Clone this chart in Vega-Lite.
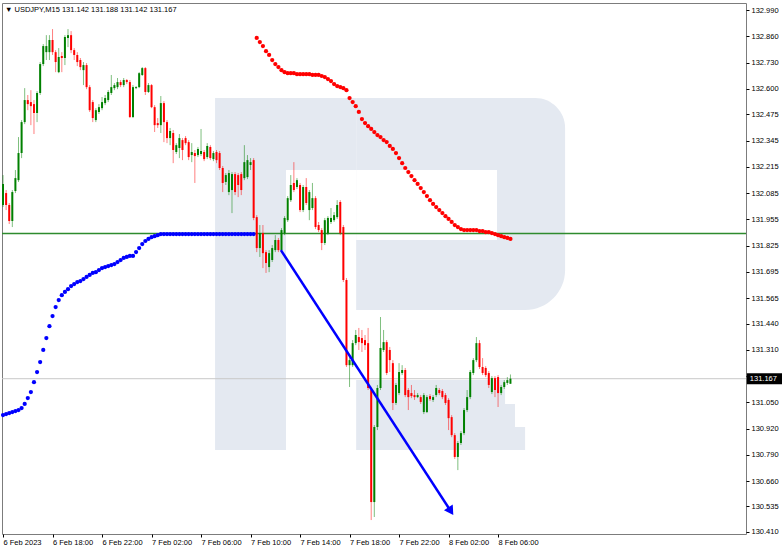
{
"$schema": "https://vega.github.io/schema/vega-lite/v6.json",
"width": 744, "height": 531,
"autosize": "none",
"padding": {"left": 2, "top": 3, "right": 36, "bottom": 16},
"background": "white",
"config": {"view": {"stroke": "#7c7c7c", "strokeWidth": 1}, "font": "Liberation Sans", "axis": {"labelOverlap": false}},
"title": {"text": "▼ USDJPY,M15  131.142 131.188 131.142 131.167", "anchor": "start", "frame": "group", "offset": -12, "baseline": "bottom", "fontSize": 7.5, "font": "Liberation Sans", "fontWeight": "normal", "color": "#000000", "dx": 3, "dy": 6},
"datasets": {
"logo": [
{"t":"2023-02-07T07:08","t2":"2023-02-07T12:52","p":132.555,"p2":130.814},
{"t":"2023-02-07T12:52","t2":"2023-02-07T18:32","p":132.555,"p2":132.199},
{"t":"2023-02-07T18:32","t2":"2023-02-08T06:34","p":131.160,"p2":131.042},
{"t":"2023-02-07T18:32","t2":"2023-02-08T07:22","p":131.042,"p2":130.928},
{"t":"2023-02-07T18:32","t2":"2023-02-08T08:11","p":130.928,"p2":130.814}
],
"bowl": [
{"t":"2023-02-07T18:32","t2":"2023-02-08T11:25","p":132.555,"p2":131.507}
],
"hole": [
{"t":"2023-02-07T18:32","t2":"2023-02-08T05:55","p":132.199,"p2":131.853}
],
"arrow": [
{"t":"2023-02-07T12:27","p":131.803},
{"t":"2023-02-08T02:07","p":130.518}
],
"arrowhead": [{"t":"2023-02-08T02:07","p":130.518}],
"box": [{"t":"2023-02-09T02:06","t2":"2023-02-09T05:00","p":131.167,"label":"131.167"}],
"candles": [
{"t":"2023-02-06T14:00","o":132.026,"h":132.174,"l":132.016,"c":132.130,"b":130.987},
{"t":"2023-02-06T14:15","o":132.085,"h":132.100,"l":132.001,"c":132.026,"b":130.992},
{"t":"2023-02-06T14:30","o":132.026,"h":132.036,"l":131.932,"c":131.947,"b":130.997},
{"t":"2023-02-06T14:45","o":131.947,"h":132.100,"l":131.917,"c":132.090,"b":131.002},
{"t":"2023-02-06T15:00","o":132.095,"h":132.199,"l":132.085,"c":132.159,"b":131.007},
{"t":"2023-02-06T15:15","o":132.149,"h":132.362,"l":132.140,"c":132.283,"b":131.012},
{"t":"2023-02-06T15:30","o":132.283,"h":132.446,"l":132.258,"c":132.436,"b":131.022},
{"t":"2023-02-06T15:45","o":132.436,"h":132.604,"l":132.426,"c":132.545,"b":131.042},
{"t":"2023-02-06T16:00","o":132.545,"h":132.570,"l":132.495,"c":132.525,"b":131.071},
{"t":"2023-02-06T16:15","o":132.535,"h":132.594,"l":132.421,"c":132.515,"b":131.101},
{"t":"2023-02-06T16:30","o":132.525,"h":132.545,"l":132.377,"c":132.481,"b":131.150},
{"t":"2023-02-06T16:45","o":132.481,"h":132.589,"l":132.436,"c":132.580,"b":131.200},
{"t":"2023-02-06T17:00","o":132.580,"h":132.733,"l":132.570,"c":132.723,"b":131.249},
{"t":"2023-02-06T17:15","o":132.723,"h":132.822,"l":132.713,"c":132.812,"b":131.309},
{"t":"2023-02-06T17:30","o":132.782,"h":132.866,"l":132.743,"c":132.812,"b":131.368},
{"t":"2023-02-06T17:45","o":132.782,"h":132.866,"l":132.743,"c":132.842,"b":131.427},
{"t":"2023-02-06T18:00","o":132.842,"h":132.896,"l":132.768,"c":132.782,"b":131.477},
{"t":"2023-02-06T18:15","o":132.782,"h":132.792,"l":132.683,"c":132.733,"b":131.521},
{"t":"2023-02-06T18:30","o":132.683,"h":132.802,"l":132.678,"c":132.758,"b":131.556},
{"t":"2023-02-06T18:45","o":132.763,"h":132.782,"l":132.683,"c":132.753,"b":131.580},
{"t":"2023-02-06T19:00","o":132.753,"h":132.866,"l":132.718,"c":132.857,"b":131.596},
{"t":"2023-02-06T19:15","o":132.852,"h":132.896,"l":132.807,"c":132.866,"b":131.610},
{"t":"2023-02-06T19:30","o":132.866,"h":132.886,"l":132.777,"c":132.792,"b":131.625},
{"t":"2023-02-06T19:45","o":132.792,"h":132.802,"l":132.743,"c":132.768,"b":131.635},
{"t":"2023-02-06T20:00","o":132.768,"h":132.782,"l":132.713,"c":132.733,"b":131.645},
{"t":"2023-02-06T20:15","o":132.743,"h":132.753,"l":132.693,"c":132.708,"b":131.650},
{"t":"2023-02-06T20:30","o":132.693,"h":132.733,"l":132.619,"c":132.718,"b":131.660},
{"t":"2023-02-06T20:45","o":132.718,"h":132.728,"l":132.599,"c":132.609,"b":131.670},
{"t":"2023-02-06T21:00","o":132.609,"h":132.619,"l":132.486,"c":132.495,"b":131.680},
{"t":"2023-02-06T21:15","o":132.535,"h":132.545,"l":132.436,"c":132.456,"b":131.690},
{"t":"2023-02-06T21:30","o":132.446,"h":132.505,"l":132.436,"c":132.495,"b":131.694},
{"t":"2023-02-06T21:45","o":132.486,"h":132.525,"l":132.476,"c":132.510,"b":131.704},
{"t":"2023-02-06T22:00","o":132.505,"h":132.560,"l":132.495,"c":132.535,"b":131.714},
{"t":"2023-02-06T22:15","o":132.530,"h":132.570,"l":132.520,"c":132.555,"b":131.719},
{"t":"2023-02-06T22:30","o":132.545,"h":132.594,"l":132.535,"c":132.585,"b":131.724},
{"t":"2023-02-06T22:45","o":132.580,"h":132.669,"l":132.570,"c":132.609,"b":131.729},
{"t":"2023-02-06T23:00","o":132.604,"h":132.629,"l":132.594,"c":132.619,"b":131.734},
{"t":"2023-02-06T23:15","o":132.609,"h":132.654,"l":132.599,"c":132.634,"b":131.744},
{"t":"2023-02-06T23:30","o":132.634,"h":132.644,"l":132.609,"c":132.619,"b":131.754},
{"t":"2023-02-06T23:45","o":132.619,"h":132.654,"l":132.609,"c":132.644,"b":131.764},
{"t":"2023-02-07T00:00","o":132.644,"h":132.649,"l":132.624,"c":132.634,"b":131.769},
{"t":"2023-02-07T00:15","o":132.634,"h":132.644,"l":132.456,"c":132.461,"b":131.774},
{"t":"2023-02-07T00:30","o":132.461,"h":132.619,"l":132.456,"c":132.609,"b":131.774},
{"t":"2023-02-07T00:45","o":132.604,"h":132.614,"l":132.599,"c":132.609,"b":131.793},
{"t":"2023-02-07T01:00","o":132.609,"h":132.683,"l":132.604,"c":132.678,"b":131.813},
{"t":"2023-02-07T01:15","o":132.669,"h":132.708,"l":132.664,"c":132.703,"b":131.833},
{"t":"2023-02-07T01:30","o":132.703,"h":132.708,"l":132.570,"c":132.585,"b":131.848},
{"t":"2023-02-07T01:45","o":132.585,"h":132.629,"l":132.580,"c":132.619,"b":131.858},
{"t":"2023-02-07T02:00","o":132.619,"h":132.624,"l":132.505,"c":132.510,"b":131.867},
{"t":"2023-02-07T02:15","o":132.510,"h":132.520,"l":132.387,"c":132.421,"b":131.872},
{"t":"2023-02-07T02:30","o":132.431,"h":132.456,"l":132.407,"c":132.421,"b":131.877},
{"t":"2023-02-07T02:45","o":132.421,"h":132.565,"l":132.382,"c":132.530,"b":131.882},
{"t":"2023-02-07T03:00","o":132.530,"h":132.540,"l":132.337,"c":132.436,"b":131.882},
{"t":"2023-02-07T03:15","o":132.436,"h":132.446,"l":132.332,"c":132.357,"b":131.882},
{"t":"2023-02-07T03:30","o":132.357,"h":132.407,"l":132.322,"c":132.392,"b":131.882},
{"t":"2023-02-07T03:45","o":132.382,"h":132.397,"l":132.233,"c":132.298,"b":131.882},
{"t":"2023-02-07T04:00","o":132.288,"h":132.332,"l":132.278,"c":132.322,"b":131.882},
{"t":"2023-02-07T04:15","o":132.308,"h":132.377,"l":132.258,"c":132.357,"b":131.882},
{"t":"2023-02-07T04:30","o":132.347,"h":132.357,"l":132.248,"c":132.298,"b":131.882},
{"t":"2023-02-07T04:45","o":132.357,"h":132.367,"l":132.322,"c":132.332,"b":131.882},
{"t":"2023-02-07T05:00","o":132.337,"h":132.347,"l":132.248,"c":132.263,"b":131.882},
{"t":"2023-02-07T05:15","o":132.273,"h":132.332,"l":132.238,"c":132.288,"b":131.882},
{"t":"2023-02-07T05:30","o":132.283,"h":132.298,"l":132.135,"c":132.268,"b":131.882},
{"t":"2023-02-07T05:45","o":132.273,"h":132.313,"l":132.263,"c":132.303,"b":131.882},
{"t":"2023-02-07T06:00","o":132.278,"h":132.402,"l":132.268,"c":132.293,"b":131.882},
{"t":"2023-02-07T06:15","o":132.288,"h":132.298,"l":132.243,"c":132.253,"b":131.882},
{"t":"2023-02-07T06:30","o":132.263,"h":132.332,"l":132.253,"c":132.318,"b":131.882},
{"t":"2023-02-07T06:45","o":132.313,"h":132.322,"l":132.248,"c":132.258,"b":131.882},
{"t":"2023-02-07T07:00","o":132.253,"h":132.293,"l":132.243,"c":132.283,"b":131.882},
{"t":"2023-02-07T07:15","o":132.288,"h":132.298,"l":132.233,"c":132.248,"b":131.882},
{"t":"2023-02-07T07:30","o":132.283,"h":132.293,"l":132.199,"c":132.209,"b":131.882},
{"t":"2023-02-07T07:45","o":132.209,"h":132.219,"l":132.090,"c":132.135,"b":131.882},
{"t":"2023-02-07T08:00","o":132.140,"h":132.184,"l":132.125,"c":132.174,"b":131.882},
{"t":"2023-02-07T08:15","o":132.090,"h":132.199,"l":132.075,"c":132.184,"b":131.882},
{"t":"2023-02-07T08:30","o":132.100,"h":132.189,"l":131.986,"c":132.179,"b":131.882},
{"t":"2023-02-07T08:45","o":132.179,"h":132.189,"l":132.075,"c":132.090,"b":131.882},
{"t":"2023-02-07T09:00","o":132.174,"h":132.184,"l":132.065,"c":132.125,"b":131.882},
{"t":"2023-02-07T09:15","o":132.179,"h":132.189,"l":132.075,"c":132.100,"b":131.882},
{"t":"2023-02-07T09:30","o":132.159,"h":132.322,"l":132.149,"c":132.238,"b":131.882},
{"t":"2023-02-07T09:45","o":132.164,"h":132.273,"l":132.154,"c":132.248,"b":131.882},
{"t":"2023-02-07T10:00","o":132.224,"h":132.258,"l":132.199,"c":132.238,"b":131.882},
{"t":"2023-02-07T10:15","o":132.248,"h":132.258,"l":131.951,"c":131.962,"b":131.882},
{"t":"2023-02-07T10:30","o":131.966,"h":131.976,"l":131.793,"c":131.813,"r":132.852},
{"t":"2023-02-07T10:45","o":131.813,"h":131.927,"l":131.769,"c":131.887,"r":132.832},
{"t":"2023-02-07T11:00","o":131.887,"h":131.927,"l":131.714,"c":131.788,"r":132.812},
{"t":"2023-02-07T11:15","o":131.793,"h":131.803,"l":131.690,"c":131.739,"r":132.787},
{"t":"2023-02-07T11:30","o":131.719,"h":131.803,"l":131.694,"c":131.788,"r":132.768},
{"t":"2023-02-07T11:45","o":131.754,"h":131.828,"l":131.744,"c":131.813,"r":132.743},
{"t":"2023-02-07T12:00","o":131.803,"h":131.877,"l":131.793,"c":131.853,"r":132.723},
{"t":"2023-02-07T12:15","o":131.853,"h":131.863,"l":131.793,"c":131.803,"r":132.708},
{"t":"2023-02-07T12:30","o":131.803,"h":131.912,"l":131.793,"c":131.902,"r":132.693},
{"t":"2023-02-07T12:45","o":131.887,"h":131.971,"l":131.877,"c":131.962,"r":132.683},
{"t":"2023-02-07T13:00","o":131.951,"h":132.070,"l":131.942,"c":132.060,"r":132.678},
{"t":"2023-02-07T13:15","o":132.050,"h":132.174,"l":132.041,"c":132.125,"r":132.678},
{"t":"2023-02-07T13:30","o":132.135,"h":132.238,"l":132.090,"c":132.100,"r":132.678},
{"t":"2023-02-07T13:45","o":132.115,"h":132.159,"l":132.105,"c":132.149,"r":132.673},
{"t":"2023-02-07T14:00","o":132.125,"h":132.135,"l":131.991,"c":132.001,"r":132.673},
{"t":"2023-02-07T14:15","o":132.001,"h":132.125,"l":131.991,"c":132.115,"r":132.673},
{"t":"2023-02-07T14:30","o":132.115,"h":132.159,"l":132.026,"c":132.036,"r":132.673},
{"t":"2023-02-07T14:45","o":132.001,"h":132.100,"l":131.951,"c":132.090,"r":132.673},
{"t":"2023-02-07T15:00","o":132.011,"h":132.135,"l":132.001,"c":132.060,"r":132.669},
{"t":"2023-02-07T15:15","o":132.060,"h":132.070,"l":131.907,"c":131.917,"r":132.669},
{"t":"2023-02-07T15:30","o":131.927,"h":131.942,"l":131.892,"c":131.902,"r":132.669},
{"t":"2023-02-07T15:45","o":131.902,"h":131.912,"l":131.803,"c":131.838,"r":132.664},
{"t":"2023-02-07T16:00","o":131.838,"h":131.962,"l":131.828,"c":131.951,"r":132.659},
{"t":"2023-02-07T16:15","o":131.887,"h":131.971,"l":131.877,"c":131.962,"r":132.649},
{"t":"2023-02-07T16:30","o":131.942,"h":132.011,"l":131.932,"c":131.962,"r":132.639},
{"t":"2023-02-07T16:45","o":131.951,"h":131.991,"l":131.942,"c":131.976,"r":132.624},
{"t":"2023-02-07T17:00","o":131.966,"h":132.050,"l":131.957,"c":132.026,"r":132.614},
{"t":"2023-02-07T17:15","o":132.041,"h":132.050,"l":131.877,"c":131.887,"r":132.609},
{"t":"2023-02-07T17:30","o":131.917,"h":131.927,"l":131.645,"c":131.655,"r":132.604},
{"t":"2023-02-07T17:45","o":131.655,"h":131.665,"l":131.225,"c":131.234,"r":132.594},
{"t":"2023-02-07T18:00","o":131.234,"h":131.284,"l":131.126,"c":131.259,"r":132.555},
{"t":"2023-02-07T18:15","o":131.234,"h":131.358,"l":131.225,"c":131.343,"r":132.535},
{"t":"2023-02-07T18:30","o":131.343,"h":131.408,"l":131.333,"c":131.383,"r":132.515},
{"t":"2023-02-07T18:45","o":131.373,"h":131.418,"l":131.309,"c":131.348,"r":132.486},
{"t":"2023-02-07T19:00","o":131.368,"h":131.408,"l":131.299,"c":131.343,"r":132.451},
{"t":"2023-02-07T19:15","o":131.358,"h":131.383,"l":131.309,"c":131.333,"r":132.431},
{"t":"2023-02-07T19:30","o":131.343,"h":131.418,"l":131.111,"c":131.121,"r":132.416},
{"t":"2023-02-07T19:45","o":131.111,"h":131.121,"l":130.468,"c":130.557,"r":132.402},
{"t":"2023-02-07T20:00","o":130.557,"h":130.938,"l":130.483,"c":130.928,"r":132.387},
{"t":"2023-02-07T20:15","o":130.928,"h":131.136,"l":130.913,"c":131.121,"r":132.372},
{"t":"2023-02-07T20:30","o":131.121,"h":131.472,"l":131.111,"c":131.319,"r":132.362},
{"t":"2023-02-07T20:45","o":131.309,"h":131.408,"l":131.299,"c":131.348,"r":132.347},
{"t":"2023-02-07T21:00","o":131.348,"h":131.358,"l":131.185,"c":131.195,"r":132.337},
{"t":"2023-02-07T21:15","o":131.309,"h":131.324,"l":131.200,"c":131.259,"r":132.318},
{"t":"2023-02-07T21:30","o":131.244,"h":131.259,"l":131.012,"c":131.047,"r":132.303},
{"t":"2023-02-07T21:45","o":131.047,"h":131.146,"l":131.037,"c":131.136,"r":132.283},
{"t":"2023-02-07T22:00","o":131.096,"h":131.244,"l":131.086,"c":131.200,"r":132.258},
{"t":"2023-02-07T22:15","o":131.195,"h":131.234,"l":131.185,"c":131.210,"r":132.233},
{"t":"2023-02-07T22:30","o":131.210,"h":131.220,"l":131.076,"c":131.086,"r":132.209},
{"t":"2023-02-07T22:45","o":131.111,"h":131.121,"l":131.012,"c":131.076,"r":132.189},
{"t":"2023-02-07T23:00","o":131.096,"h":131.136,"l":131.071,"c":131.081,"r":132.169},
{"t":"2023-02-07T23:15","o":131.086,"h":131.111,"l":131.062,"c":131.076,"r":132.149},
{"t":"2023-02-07T23:30","o":131.076,"h":131.096,"l":131.071,"c":131.086,"r":132.130},
{"t":"2023-02-07T23:45","o":131.076,"h":131.086,"l":131.042,"c":131.052,"r":132.110},
{"t":"2023-02-08T00:00","o":131.002,"h":131.096,"l":130.992,"c":131.086,"r":132.090},
{"t":"2023-02-08T00:15","o":131.002,"h":131.086,"l":130.997,"c":131.076,"r":132.070},
{"t":"2023-02-08T00:30","o":131.081,"h":131.091,"l":131.057,"c":131.066,"r":132.050},
{"t":"2023-02-08T00:45","o":131.062,"h":131.086,"l":131.052,"c":131.076,"r":132.031},
{"t":"2023-02-08T01:00","o":131.086,"h":131.136,"l":131.076,"c":131.121,"r":132.016},
{"t":"2023-02-08T01:15","o":131.111,"h":131.121,"l":131.086,"c":131.096,"r":132.001},
{"t":"2023-02-08T01:30","o":131.106,"h":131.116,"l":131.066,"c":131.076,"r":131.986},
{"t":"2023-02-08T01:45","o":131.086,"h":131.096,"l":131.037,"c":131.047,"r":131.971},
{"t":"2023-02-08T02:00","o":131.062,"h":131.071,"l":130.913,"c":130.972,"r":131.957},
{"t":"2023-02-08T02:15","o":130.977,"h":130.987,"l":130.878,"c":130.888,"r":131.942},
{"t":"2023-02-08T02:30","o":130.888,"h":130.898,"l":130.770,"c":130.780,"r":131.927},
{"t":"2023-02-08T02:45","o":130.780,"h":130.859,"l":130.715,"c":130.849,"r":131.917},
{"t":"2023-02-08T03:00","o":130.849,"h":130.908,"l":130.839,"c":130.898,"r":131.907},
{"t":"2023-02-08T03:15","o":130.898,"h":131.022,"l":130.888,"c":131.012,"r":131.902},
{"t":"2023-02-08T03:30","o":131.012,"h":131.111,"l":131.002,"c":131.076,"r":131.902},
{"t":"2023-02-08T03:45","o":131.076,"h":131.210,"l":131.066,"c":131.200,"r":131.902},
{"t":"2023-02-08T04:00","o":131.195,"h":131.269,"l":131.185,"c":131.259,"r":131.902},
{"t":"2023-02-08T04:15","o":131.259,"h":131.373,"l":131.249,"c":131.343,"r":131.902},
{"t":"2023-02-08T04:30","o":131.343,"h":131.358,"l":131.215,"c":131.225,"r":131.897},
{"t":"2023-02-08T04:45","o":131.225,"h":131.269,"l":131.185,"c":131.195,"r":131.897},
{"t":"2023-02-08T05:00","o":131.220,"h":131.229,"l":131.175,"c":131.185,"r":131.892},
{"t":"2023-02-08T05:15","o":131.195,"h":131.205,"l":131.121,"c":131.136,"r":131.892},
{"t":"2023-02-08T05:30","o":131.101,"h":131.180,"l":131.091,"c":131.170,"r":131.887},
{"t":"2023-02-08T05:45","o":131.170,"h":131.180,"l":131.076,"c":131.111,"r":131.882},
{"t":"2023-02-08T06:00","o":131.175,"h":131.185,"l":131.027,"c":131.096,"r":131.877},
{"t":"2023-02-08T06:15","o":131.096,"h":131.136,"l":131.086,"c":131.126,"r":131.872},
{"t":"2023-02-08T06:30","o":131.126,"h":131.160,"l":131.116,"c":131.150,"r":131.867},
{"t":"2023-02-08T06:45","o":131.146,"h":131.175,"l":131.136,"c":131.160,"r":131.863},
{"t":"2023-02-08T07:00","o":131.142,"h":131.188,"l":131.142,"c":131.167,"r":131.858}
]
},
"layer": [
{
"data": {"name": "logo"},
"mark": {"type": "rect", "color": "#e4e9f1"},
"encoding": {
"x": {"field": "t", "type": "temporal", "scale": {"domain": [{"year":2023,"month":2,"date":6,"hours":13,"minutes":55},{"year":2023,"month":2,"date":9,"hours":2,"minutes":2}]},
"axis": {"values": [{"year":2023,"month":2,"date":6,"hours":14},{"year":2023,"month":2,"date":6,"hours":18},{"year":2023,"month":2,"date":6,"hours":22},{"year":2023,"month":2,"date":7,"hours":2},{"year":2023,"month":2,"date":7,"hours":6},{"year":2023,"month":2,"date":7,"hours":10},{"year":2023,"month":2,"date":7,"hours":14},{"year":2023,"month":2,"date":7,"hours":18},{"year":2023,"month":2,"date":7,"hours":22},{"year":2023,"month":2,"date":8,"hours":2},{"year":2023,"month":2,"date":8,"hours":6}],
"tickCount": 40,
"labelExpr": "timeFormat(datum.value, '%d %H') == '06 14' ? '6 Feb 2023' : timeFormat(datum.value, '%-d %b %H:%M')",
"title": null, "grid": false, "domain": false, "tickSize": 3, "tickColor": "#000000", "labelAlign": "left", "labelBaseline": "top", "labelPadding": 1, "labelFontSize": 7.5, "labelFont": "Liberation Sans", "labelColor": "#000000", "labelFlush": false, "labelOverlap": false, "labelBound": false}},
"x2": {"field": "t2"},
"y": {"field": "p", "type": "quantitative", "scale": {"domain": [130.399, 133.025], "nice": false, "zero": false},
"axis": {"orient": "right", "values": [132.99,132.86,132.73,132.6,132.475,132.345,132.215,132.085,131.955,131.825,131.695,131.565,131.44,131.31,131.18,131.05,130.92,130.79,130.66,130.535,130.41], "tickCount": 40, "format": ".3f", "title": null, "grid": false, "domain": false, "tickSize": 3, "tickColor": "#000000", "labelPadding": 2, "labelFontSize": 7.5, "labelFont": "Liberation Sans", "labelColor": "#000000", "labelOverlap": false, "labelBound": false, "labelFlush": false}},
"y2": {"field": "p2"}
}
},
{
"data": {"name": "bowl"},
"mark": {"type": "rect", "color": "#e4e9f1", "cornerRadiusTopRight": 30, "cornerRadiusBottomRight": 40},
"encoding": {
"x": {"field": "t", "type": "temporal"},
"x2": {"field": "t2"},
"y": {"field": "p", "type": "quantitative"},
"y2": {"field": "p2"}
}
},
{
"data": {"name": "hole"},
"mark": {"type": "rect", "color": "#ffffff"},
"encoding": {
"x": {"field": "t", "type": "temporal"},
"x2": {"field": "t2"},
"y": {"field": "p", "type": "quantitative"},
"y2": {"field": "p2"}
}
},
{
"data": {"values": [{}]},
"mark": {"type": "rule", "color": "#c8c8c8", "strokeWidth": 1},
"encoding": {"y": {"datum": 131.167, "type": "quantitative", "scale": {"domain": [130.399, 133.025], "nice": false, "zero": false}}}
},
{
"data": {"values": [{}]},
"mark": {"type": "rule", "color": "#2e8b2e", "strokeWidth": 1.5},
"encoding": {"y": {"datum": 131.885, "type": "quantitative", "scale": {"domain": [130.399, 133.025], "nice": false, "zero": false}}}
},
{
"data": {"name": "candles"},
"mark": {"type": "point", "filled": true, "color": "#0000ff", "opacity": 1, "size": 18},
"encoding": {
"x": {"field": "t", "type": "temporal"},
"y": {"field": "b", "type": "quantitative"}
}
},
{
"data": {"name": "candles"},
"mark": {"type": "point", "filled": true, "color": "#ff0000", "opacity": 1},
"encoding": {
"x": {"field": "t", "type": "temporal"},
"y": {"field": "r", "type": "quantitative"},
"size": {"condition": {"test": "datum.t == '2023-02-07T10:30'", "value": 70}, "value": 18}
}
},
{
"data": {"name": "candles"},
"mark": {"type": "rule", "strokeWidth": 1, "opacity": 0.5},
"encoding": {
"x": {"field": "t", "type": "temporal"},
"y": {"field": "l", "type": "quantitative"},
"y2": {"field": "h"},
"color": {"condition": {"test": "datum.c >= datum.o", "value": "#008000"}, "value": "#ff0000"}
}
},
{
"data": {"name": "candles"},
"mark": {"type": "rule", "strokeWidth": 2, "strokeCap": "butt"},
"encoding": {
"x": {"field": "t", "type": "temporal"},
"y": {"field": "o", "type": "quantitative"},
"y2": {"field": "c"},
"color": {"condition": {"test": "datum.c >= datum.o", "value": "#008000"}, "value": "#ff0000"}
}
},
{
"data": {"name": "arrow"},
"mark": {"type": "line", "color": "#0000ff", "strokeWidth": 2.5},
"encoding": {
"x": {"field": "t", "type": "temporal"},
"y": {"field": "p", "type": "quantitative"}
}
},
{
"data": {"name": "arrowhead"},
"mark": {"type": "point", "shape": "triangle", "filled": true, "color": "#0000ff", "opacity": 1, "size": 110, "angle": 147},
"encoding": {
"x": {"field": "t", "type": "temporal"},
"y": {"field": "p", "type": "quantitative"}
}
},
{
"data": {"name": "box"},
"mark": {"type": "rule", "color": "#000000", "strokeWidth": 11, "strokeCap": "butt"},
"encoding": {
"x": {"field": "t", "type": "temporal", "scale": {"domain": [{"year":2023,"month":2,"date":6,"hours":13,"minutes":55},{"year":2023,"month":2,"date":9,"hours":2,"minutes":2}]}},
"x2": {"field": "t2"},
"y": {"field": "p", "type": "quantitative"}
}
},
{
"data": {"name": "box"},
"mark": {"type": "text", "color": "#ffffff", "align": "left", "baseline": "middle", "dx": 3, "fontSize": 7.5, "font": "Liberation Sans"},
"encoding": {
"x": {"field": "t", "type": "temporal"},
"y": {"field": "p", "type": "quantitative"},
"text": {"field": "label"}
}
}
]
}
